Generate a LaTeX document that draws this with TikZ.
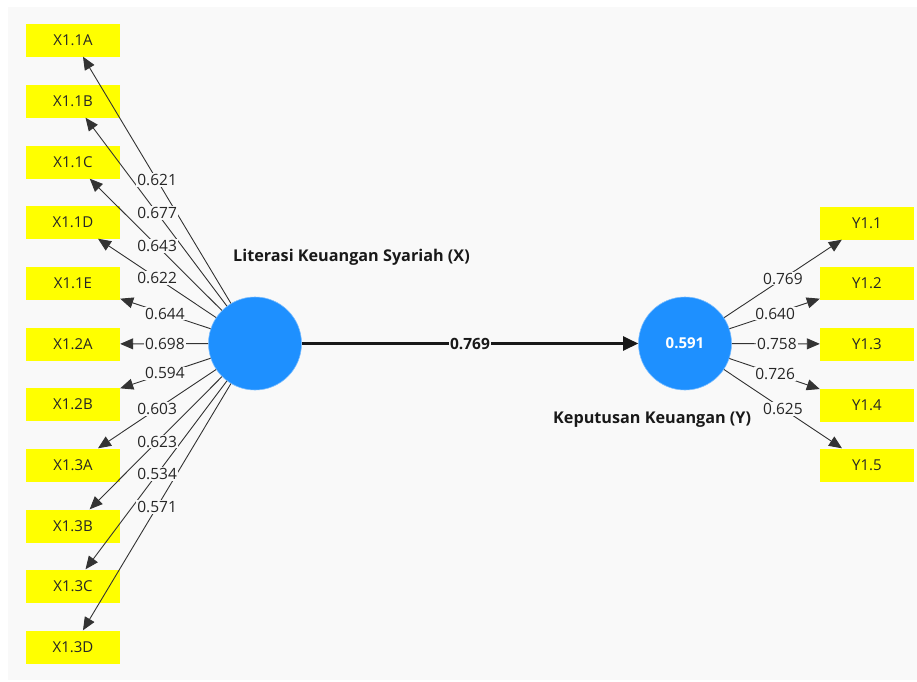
\documentclass[tikz,border=0pt]{standalone}
\usepackage{fontspec}
\setmainfont{Open Sans}
\usetikzlibrary{arrows.meta}
\definecolor{bg}{RGB}{249,249,249}
\definecolor{lvblue}{RGB}{30,144,255}
\definecolor{indyellow}{RGB}{255,255,0}
\begin{document}
\begin{tikzpicture}[x=1pt,y=-1pt,
  indbox/.style={fill=indyellow, minimum width=94pt, minimum height=33pt, inner sep=0pt, text=black!85, font=\fontsize{15}{17}\selectfont},
  lvnode/.style={circle, fill=lvblue, minimum size=93pt, inner sep=0pt, draw=lvblue!60!white, line width=0.6pt},
  load/.style={draw=black!80, line width=0.9pt, -{Triangle[length=13pt,width=11pt]}},
  wt/.style={fill=bg, inner sep=1pt, text=black!85, font=\fontsize{15.5}{17}\selectfont},
  lvtitle/.style={anchor=west, inner sep=0pt, text=black!90, font=\bfseries\fontsize{16.2}{18}\selectfont}]
\useasboundingbox (0,0) rectangle (917,681);
\fill[bg] (8,7) rectangle (917,680);

% latent variables
\node[lvnode] (LX) at (255,343.5) {};
\node[lvnode, text=white, font=\bfseries\fontsize{15}{17}\selectfont] (LY) at (685,343.5) {0.591};
\node[lvtitle] (tX) at (233,257) {Literasi Keuangan Syariah (X)};
\node[lvtitle] (tY) at (553,420) {Keputusan Keuangan (Y)};

% left indicators
\foreach \nm/\yy/\txt in {a/40/X1.1A, b/101/X1.1B, c/162/X1.1C, d/222/X1.1D, e/283/X1.1E, f/344/X1.2A, g/404/X1.2B, h/465/X1.3A, i/526/X1.3B, j/586/X1.3C, k/647/X1.3D}
  \node[indbox] (X\nm) at (73,\yy) {\txt};

% right indicators
\foreach \nm/\yy/\txt in {a/223/Y1.1, b/283/Y1.2, c/344/Y1.3, d/405/Y1.4, e/465/Y1.5}
  \node[indbox] (Y\nm) at (867,\yy) {\txt};

% left loadings
\foreach \nm/\v/\p in {a/0.621/0.538, b/0.677/0.538, c/0.643/0.538, d/0.622/0.538, e/0.644/0.495, f/0.698/0.495, g/0.594/0.495, h/0.603/0.538, i/0.623/0.538, j/0.534/0.538, k/0.571/0.538}
  \draw[load] (LX) -- (X\nm);
\foreach \nm/\v/\p in {a/0.621/0.538, b/0.677/0.538, c/0.643/0.538, d/0.622/0.538, e/0.644/0.495, f/0.698/0.495, g/0.594/0.495, h/0.603/0.538, i/0.623/0.538, j/0.534/0.538, k/0.571/0.538}
  \path (LX.center) -- (X\nm.center) node[wt, pos=\p] {\v};

% right loadings
\foreach \nm/\v/\p in {a/0.769/0.538, b/0.640/0.495, c/0.758/0.505, d/0.726/0.495, e/0.625/0.538}
  \draw[load] (LY) -- (Y\nm);
\foreach \nm/\v/\p in {a/0.769/0.538, b/0.640/0.495, c/0.758/0.505, d/0.726/0.495, e/0.625/0.538}
  \path (LY.center) -- (Y\nm.center) node[wt, pos=\p] {\v};

% structural path
\draw[line width=2.2pt, black!90, -{Triangle[length=15pt,width=14pt]}] (LX) -- (LY)
  node[midway, fill=bg, inner sep=1pt, font=\bfseries\fontsize{15.5}{17}\selectfont] {0.769};
\end{tikzpicture}
\end{document}
